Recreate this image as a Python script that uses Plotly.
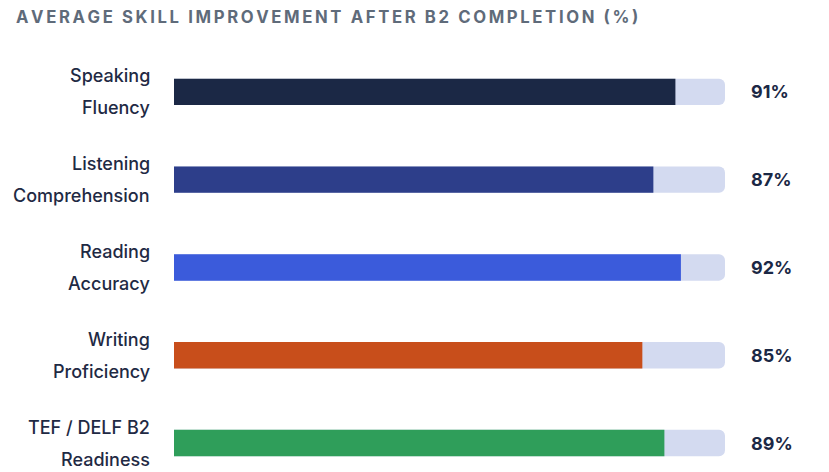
import plotly.graph_objects as go

skills = ["Speaking<br>Fluency", "Listening<br>Comprehension", "Reading<br>Accuracy",
          "Writing<br>Proficiency", "TEF / DELF B2<br>Readiness"]
values = [91, 87, 92, 85, 89]
colors = ["#1b2845", "#2d3e8a", "#3b5bdb", "#c84e1b", "#2f9e5a"]
track_color = "#d3daf0"
title = "AVERAGE SKILL IMPROVEMENT AFTER B2 COMPLETION (%)"

pos = list(range(len(skills)))
FONT = "Inter"

def spaced(s, sp="\u200a\u200a"):
    return sp.join(list(s))

fig = go.Figure()
fig.add_trace(go.Bar(x=[100] * len(pos), y=pos, orientation="h", width=0.3,
                     marker=dict(color=track_color, line=dict(width=0), cornerradius=6),
                     hoverinfo="skip", showlegend=False))
fig.add_trace(go.Bar(x=values, y=pos, orientation="h", width=0.3,
                     marker=dict(color=colors, line=dict(width=0), cornerradius=6),
                     showlegend=False))

annotations = []
for p, lab, v in zip(pos, skills, values):
    lines = lab.split("<br>")
    for txt, ys in ((lines[0], 16), (lines[1], -16)):
        annotations.append(dict(x=0, y=p, xref="x", yref="y", text=txt, showarrow=False,
                                xanchor="right", yanchor="middle", xshift=-22, yshift=ys,
                                font=dict(family=FONT, size=18, color="#1f2a44", weight=500)))
    annotations.append(dict(x=100, y=p, xref="x", yref="y", text=f"{v}%", showarrow=False,
                            xanchor="left", yanchor="middle", xshift=24,
                            font=dict(family=FONT, size=18, color="#1b2845", weight=700)))
annotations.append(dict(x=0, y=1, xref="paper", yref="paper", text=spaced(title), showarrow=False,
                        xanchor="left", yanchor="middle", xshift=-160, yshift=31,
                        font=dict(family=FONT, size=16.7, color="#5f6b7a", weight=700)))

fig.update_layout(
    width=829, height=472,
    margin=dict(l=174, r=104, t=48, b=0),
    paper_bgcolor="white", plot_bgcolor="white",
    barmode="overlay",
    xaxis=dict(range=[0, 100], visible=False, fixedrange=True),
    yaxis=dict(range=[4.33, -0.5], visible=False, fixedrange=True),
    annotations=annotations,
)

fig.write_html("out.html")
